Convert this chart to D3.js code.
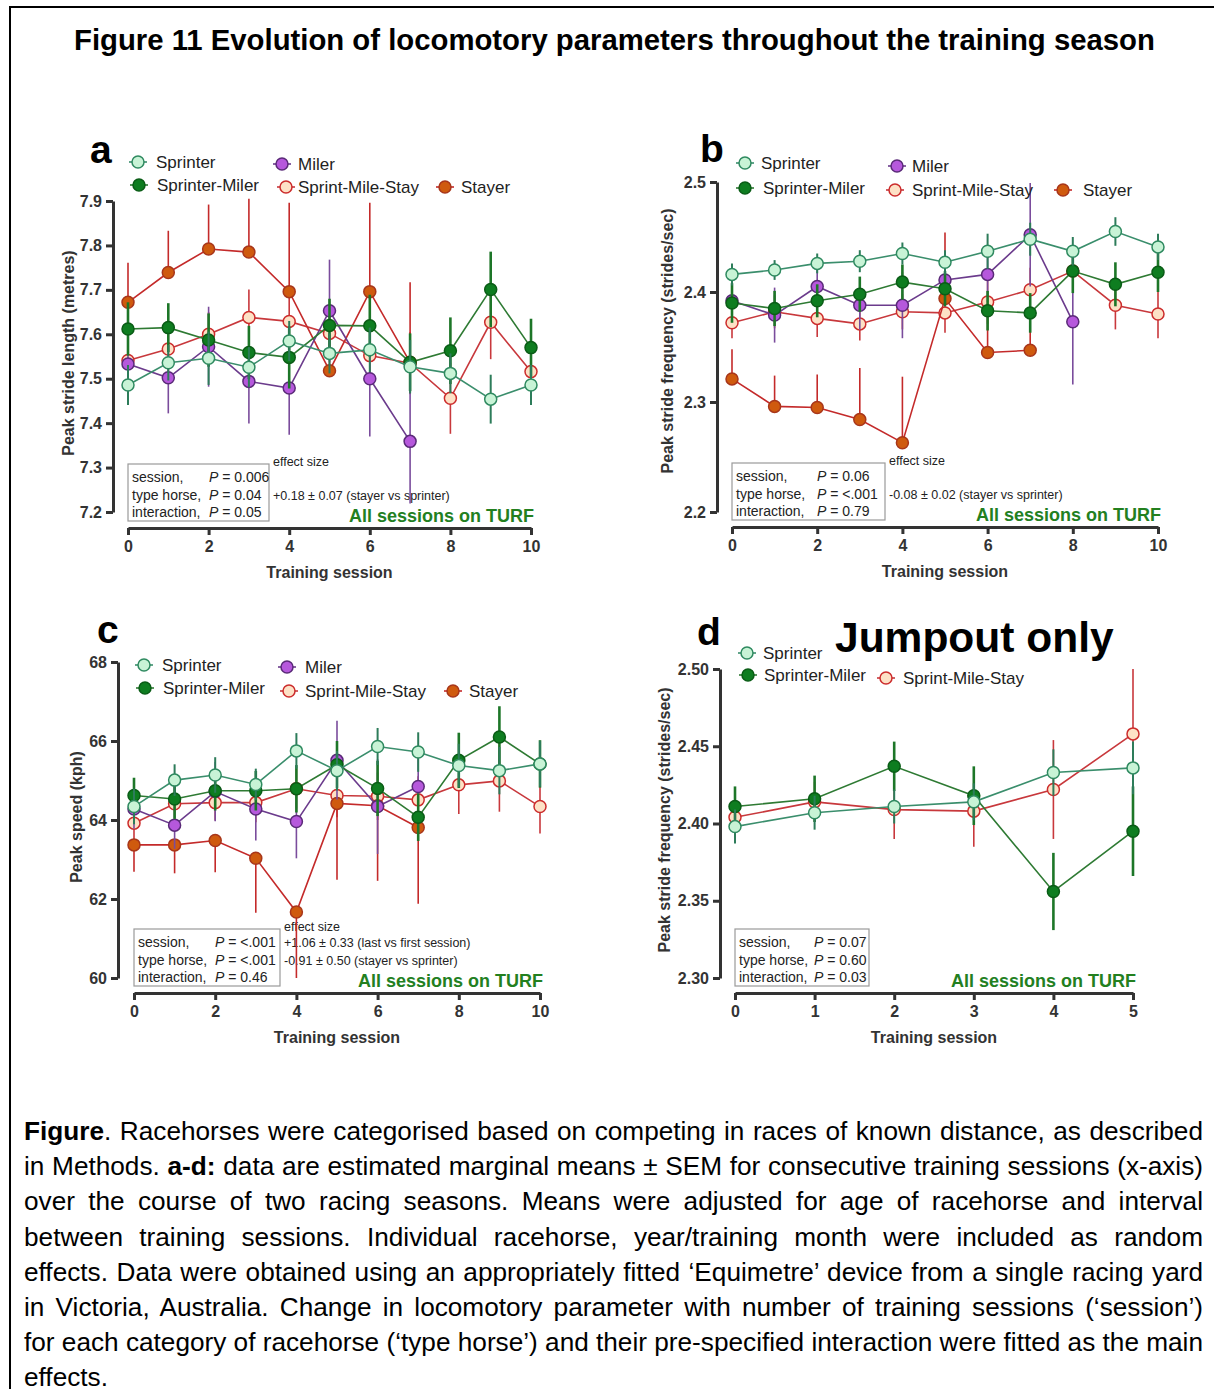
<!DOCTYPE html>
<html>
<head>
<meta charset="utf-8">
<script src="https://cdn.jsdelivr.net/npm/d3@7"></script>
<style>
  body { margin: 0; background: #fff; }
  #wrap { position: relative; width: 1214px; height: 1389px; overflow: hidden; }
  svg { position: absolute; left: 0; top: 0; }
</style>
</head>
<body>
<div id="wrap">
  <svg id="fig" width="1214" height="1389"></svg>
</div>
<script>
// Figure 11 — locomotory parameters over training sessions, four GraphPad-style panels.

// ---- ticks ----
const X_TICKS_10 = [0, 2, 4, 6, 8, 10];
const X_TICKS_5 = [0, 1, 2, 3, 4, 5];
const A_TICKS = [7.2, 7.3, 7.4, 7.5, 7.6, 7.7, 7.8, 7.9];
const B_TICKS = [2.2, 2.3, 2.4, 2.5];
const C_TICKS = [60, 62, 64, 66, 68];
const D_TICKS = [2.30, 2.35, 2.40, 2.45, 2.50];

// ---- a: peak stride length (m), mean and SEM per session ----
const a_sprinter     = [7.486, 7.536, 7.546, 7.526, 7.585, 7.557, 7.565, 7.527, 7.512, 7.454, 7.486];
const a_sprinter_sem = [0.045, 0.04, 0.06, 0.045, 0.045, 0.045, 0.05, 0.06, 0.045, 0.055, 0.045];
const a_sprmiler     = [7.612, 7.615, 7.587, 7.559, 7.548, 7.620, 7.619, 7.537, 7.563, 7.701, 7.570];
const a_sprmiler_sem = [0.06, 0.055, 0.06, 0.06, 0.07, 0.06, 0.07, 0.065, 0.075, 0.085, 0.065];
const a_miler        = [7.533, 7.502, 7.572, 7.494, 7.479, 7.653, 7.500, 7.359];
const a_miler_sem    = [0.06, 0.08, 0.09, 0.095, 0.105, 0.115, 0.13, 0.14];
const a_sms          = [7.541, 7.567, 7.600, 7.638, 7.629, 7.602, 7.552, 7.535, 7.456, 7.627, 7.516];
const a_sms_sem      = [0.05, 0.05, 0.05, 0.063, 0.06, 0.06, 0.06, 0.07, 0.08, 0.083, 0.06];
const a_stayer       = [7.672, 7.739, 7.792, 7.785, 7.696, 7.518, 7.696, 7.537];
const a_stayer_sem   = [0.089, 0.094, 0.10, 0.12, 0.20, 0.08, 0.20, 0.18];

// ---- b: peak stride frequency (strides/sec) ----
const b_sprinter     = [2.416, 2.420, 2.426, 2.428, 2.435, 2.427, 2.437, 2.448, 2.437, 2.455, 2.441];
const b_sprinter_sem = [0.010, 0.009, 0.009, 0.010, 0.010, 0.011, 0.016, 0.015, 0.013, 0.013, 0.012];
const b_sprmiler     = [2.390, 2.385, 2.392, 2.398, 2.409, 2.403, 2.383, 2.381, 2.419, 2.407, 2.418];
const b_sprmiler_sem = [0.018, 0.016, 0.015, 0.016, 0.016, 0.016, 0.018, 0.018, 0.020, 0.020, 0.018];
const b_miler        = [2.392, 2.379, 2.405, 2.388, 2.388, 2.411, 2.416, 2.452, 2.373];
const b_miler_sem    = [0.018, 0.025, 0.020, 0.022, 0.030, 0.022, 0.025, 0.047, 0.057];
const b_sms          = [2.372, 2.382, 2.376, 2.371, 2.382, 2.381, 2.391, 2.402, 2.419, 2.388, 2.380];
const b_sms_sem      = [0.014, 0.015, 0.017, 0.015, 0.016, 0.018, 0.020, 0.020, 0.020, 0.022, 0.022];
const b_stayer       = [2.321, 2.296, 2.295, 2.284, 2.263, 2.394, 2.345, 2.347];
const b_stayer_sem   = [0.027, 0.028, 0.030, 0.047, 0.060, 0.060, 0.045, 0.045];

// ---- c: peak speed (kph) ----
const c_sprinter     = [64.34, 65.01, 65.14, 64.90, 65.75, 65.25, 65.86, 65.72, 65.38, 65.25, 65.42];
const c_sprinter_sem = [0.45, 0.40, 0.45, 0.40, 0.45, 0.50, 0.47, 0.50, 0.55, 0.60, 0.58];
const c_sprmiler     = [64.62, 64.53, 64.74, 64.74, 64.79, 65.40, 64.80, 64.07, 65.51, 66.10, 65.42];
const c_sprmiler_sem = [0.45, 0.50, 0.50, 0.50, 0.60, 0.60, 0.70, 0.60, 0.70, 0.78, 0.60];
const c_miler        = [64.28, 63.87, 64.72, 64.28, 63.96, 65.51, 64.34, 64.85];
const c_miler_sem    = [0.50, 0.60, 0.75, 0.80, 0.93, 1.00, 1.20, 1.00];
const c_sms          = [63.92, 64.41, 64.44, 64.44, 64.79, 64.62, 64.60, 64.51, 64.89, 64.99, 64.34];
const c_sms_sem      = [0.40, 0.45, 0.45, 0.50, 0.50, 0.55, 0.60, 0.60, 0.74, 0.78, 0.68];
const c_stayer       = [63.37, 63.37, 63.48, 63.03, 61.67, 64.42, 64.36, 63.81];
const c_stayer_sem   = [0.68, 0.72, 0.80, 1.38, 1.67, 1.93, 1.90, 1.93];

// ---- d: jumpout only, peak stride frequency ----
const d_sprinter     = [2.398, 2.407, 2.411, 2.414, 2.433, 2.436];
const d_sprinter_sem = [0.011, 0.011, 0.011, 0.012, 0.015, 0.017];
const d_sprmiler     = [2.411, 2.416, 2.437, 2.418, 2.356, 2.395];
const d_sprmiler_sem = [0.013, 0.015, 0.016, 0.019, 0.025, 0.029];
const d_sms          = [2.404, 2.414, 2.409, 2.408, 2.422, 2.458];
const d_sms_sem      = [0.012, 0.013, 0.019, 0.023, 0.032, 0.042];

// ---- stats text ----
const A_STATS = [["session,", "0.006"], ["type horse,", "0.04"], ["interaction,", "0.05"]];
const B_STATS = [["session,", "0.06"], ["type horse,", "<.001"], ["interaction,", "0.79"]];
const C_STATS = [["session,", "<.001"], ["type horse,", "<.001"], ["interaction,", "0.46"]];
const D_STATS = [["session,", "0.07"], ["type horse,", "0.60"], ["interaction,", "0.03"]];
const A_EFFECTS = [[1, "+0.18 ± 0.07 (stayer vs sprinter)"]];
const B_EFFECTS = [[1, "-0.08 ± 0.02 (stayer vs sprinter)"]];
const C_EFFECTS = [[0, "+1.06 ± 0.33 (last vs first session)"], [1, "-0.91 ± 0.50 (stayer vs sprinter)"]];

const CAPTION = [
  [["b", "Figure"], ["", ". Racehorses were categorised based on competing in races of known distance, as described"]],
  [["", "in Methods. "], ["b", "a-d:"], ["", " data are estimated marginal means ± SEM for consecutive training sessions (x-axis)"]],
  [["", "over the course of two racing seasons. Means were adjusted for age of racehorse and interval"]],
  [["", "between training sessions. Individual racehorse, year/training month were included as random"]],
  [["", "effects. Data were obtained using an appropriately fitted ‘Equimetre’ device from a single racing yard"]],
  [["", "in Victoria, Australia. Change in locomotory parameter with number of training sessions (‘session’)"]],
  [["", "for each category of racehorse (‘type horse’) and their pre-specified interaction were fitted as the main"]],
  [["", "effects."]]
];

// ---- styles per horse type ----
const STYLE = {
  "Sprinter":         { fill: "#c8f3d6", stroke: "#2f8a60", line: "#3a8e6c", bar: "#2d7c5a", barW: 2 },
  "Sprinter-Miler":   { fill: "#0e7d20", stroke: "#0a5c16", line: "#2e7a33", bar: "#1d7628", barW: 2.6 },
  "Miler":            { fill: "#b658dc", stroke: "#5a2a78", line: "#6b3b8c", bar: "#7a4c9c", barW: 1.6 },
  "Sprint-Mile-Stay": { fill: "#fde1c6", stroke: "#cc2c2c", line: "#c8383c", bar: "#c8383c", barW: 1.6 },
  "Stayer":           { fill: "#cf5a0e", stroke: "#a8361a", line: "#c42a2a", bar: "#c42a2a", barW: 1.6 }
};
const AXIS = "#333";
const TURF_GREEN = "#23801f";
const FONT = '"Liberation Sans", Arial, sans-serif';

const svg = d3.select("#fig").attr("font-family", FONT);
svg.append("rect").attr("width", 1214).attr("height", 1389).attr("fill", "#fff");
svg.append("rect").attr("x", 10).attr("y", 7).attr("width", 1230).attr("height", 1420)
  .attr("fill", "none").attr("stroke", "#000").attr("stroke-width", 2);

svg.append("text").attr("x", 74).attr("y", 50)
  .attr("font-size", 29.3).attr("font-weight", "bold")
  .text("Figure 11 Evolution of locomotory parameters throughout the training season");

const panels = [
  {
    letter: "a", lx: 90, ly: 163,
    x0: 128, x1: 531, xAxisY: 528, yAxisX: 113, yTop: 201, yBot: 512,
    xDomain: [0, 10], xTicks: X_TICKS_10, yDomain: [7.2, 7.9], yTicks: A_TICKS, fmt: ".1f",
    yTitle: "Peak stride length (metres)", yTitleX: 74, yTitleY: 353,
    series: [
      { name: "Sprint-Mile-Stay", v: a_sms, e: a_sms_sem },
      { name: "Stayer", v: a_stayer, e: a_stayer_sem, dir: "up" },
      { name: "Miler", v: a_miler, e: a_miler_sem },
      { name: "Sprinter-Miler", v: a_sprmiler, e: a_sprmiler_sem },
      { name: "Sprinter", v: a_sprinter, e: a_sprinter_sem }
    ],
    stats: A_STATS, effects: A_EFFECTS, boxW: 141, pOff: 77,
    legend: [
      { name: "Sprinter", cx: 138, cy: 162, tx: 156 },
      { name: "Miler", cx: 282, cy: 164, tx: 298 },
      { name: "Sprinter-Miler", cx: 139, cy: 185, tx: 157 },
      { name: "Sprint-Mile-Stay", cx: 286, cy: 187, tx: 298 },
      { name: "Stayer", cx: 445, cy: 187, tx: 461 }
    ]
  },
  {
    letter: "b", lx: 700, ly: 162,
    x0: 732, x1: 1158, xAxisY: 527, yAxisX: 717, yTop: 182, yBot: 512,
    xDomain: [0, 10], xTicks: X_TICKS_10, yDomain: [2.2, 2.5], yTicks: B_TICKS, fmt: ".1f",
    yTitle: "Peak stride frequency (strides/sec)", yTitleX: 673, yTitleY: 341,
    series: [
      { name: "Sprint-Mile-Stay", v: b_sms, e: b_sms_sem },
      { name: "Stayer", v: b_stayer, e: b_stayer_sem, dir: "up" },
      { name: "Miler", v: b_miler, e: b_miler_sem },
      { name: "Sprinter-Miler", v: b_sprmiler, e: b_sprmiler_sem },
      { name: "Sprinter", v: b_sprinter, e: b_sprinter_sem }
    ],
    stats: B_STATS, effects: B_EFFECTS, boxW: 153, pOff: 81,
    legend: [
      { name: "Sprinter", cx: 745, cy: 163, tx: 761 },
      { name: "Miler", cx: 897, cy: 166, tx: 912 },
      { name: "Sprinter-Miler", cx: 745, cy: 188, tx: 763 },
      { name: "Sprint-Mile-Stay", cx: 895, cy: 190, tx: 912 },
      { name: "Stayer", cx: 1063, cy: 190, tx: 1083 }
    ]
  },
  {
    letter: "c", lx: 97, ly: 643,
    x0: 134, x1: 540, xAxisY: 993, yAxisX: 118, yTop: 662, yBot: 978,
    xDomain: [0, 10], xTicks: X_TICKS_10, yDomain: [60, 68], yTicks: C_TICKS, fmt: "d",
    yTitle: "Peak speed (kph)", yTitleX: 82, yTitleY: 817,
    series: [
      { name: "Sprint-Mile-Stay", v: c_sms, e: c_sms_sem },
      { name: "Stayer", v: c_stayer, e: c_stayer_sem, dir: "down" },
      { name: "Miler", v: c_miler, e: c_miler_sem },
      { name: "Sprinter-Miler", v: c_sprmiler, e: c_sprmiler_sem },
      { name: "Sprinter", v: c_sprinter, e: c_sprinter_sem }
    ],
    stats: C_STATS, effects: C_EFFECTS, boxW: 146, pOff: 77,
    legend: [
      { name: "Sprinter", cx: 144, cy: 665, tx: 162 },
      { name: "Miler", cx: 287, cy: 667, tx: 305 },
      { name: "Sprinter-Miler", cx: 145, cy: 688, tx: 163 },
      { name: "Sprint-Mile-Stay", cx: 289, cy: 691, tx: 305 },
      { name: "Stayer", cx: 453, cy: 691, tx: 469 }
    ]
  },
  {
    letter: "d", lx: 697, ly: 645,
    x0: 735, x1: 1133, xAxisY: 993, yAxisX: 720, yTop: 669, yBot: 978,
    xDomain: [0, 5], xTicks: X_TICKS_5, yDomain: [2.30, 2.50], yTicks: D_TICKS, fmt: ".2f",
    yTitle: "Peak stride frequency (strides/sec)", yTitleX: 670, yTitleY: 820,
    series: [
      { name: "Sprint-Mile-Stay", v: d_sms, e: d_sms_sem },
      { name: "Sprinter-Miler", v: d_sprmiler, e: d_sprmiler_sem },
      { name: "Sprinter", v: d_sprinter, e: d_sprinter_sem }
    ],
    stats: D_STATS, effects: [], boxW: 134, pOff: 75,
    legend: [
      { name: "Sprinter", cx: 747, cy: 653, tx: 763 },
      { name: "Sprinter-Miler", cx: 748, cy: 675, tx: 764 },
      { name: "Sprint-Mile-Stay", cx: 886, cy: 678, tx: 903 }
    ],
    headline: { text: "Jumpout only", x: 835, y: 652 }
  }
];

panels.forEach(drawPanel);

function drawPanel(p) {
  const x = d3.scaleLinear().domain(p.xDomain).range([p.x0, p.x1]);
  const y = d3.scaleLinear().domain(p.yDomain).range([p.yBot, p.yTop]);
  const g = svg.append("g").attr("font-family", FONT);

  // panel letter
  g.append("text").attr("x", p.lx).attr("y", p.ly)
    .attr("font-size", 39).attr("font-weight", "bold").text(p.letter);
  if (p.headline) {
    g.append("text").attr("x", p.headline.x).attr("y", p.headline.y)
      .attr("font-size", 42.5).attr("font-weight", "bold").text(p.headline.text);
  }

  // axes
  const yAx = g.append("g").attr("transform", `translate(${p.yAxisX},0)`)
    .call(d3.axisLeft(y).tickValues(p.yTicks).tickFormat(d3.format(p.fmt))
      .tickSize(7).tickSizeOuter(0).tickPadding(4));
  const xAx = g.append("g").attr("transform", `translate(0,${p.xAxisY})`)
    .call(d3.axisBottom(x).tickValues(p.xTicks).tickFormat(d3.format("d"))
      .tickSize(7).tickSizeOuter(0).tickPadding(6));
  [yAx, xAx].forEach(ax => {
    ax.select(".domain").attr("stroke", AXIS).attr("stroke-width", 3);
    ax.selectAll(".tick line").attr("stroke", AXIS).attr("stroke-width", 3);
    ax.selectAll(".tick text").attr("fill", AXIS).attr("font-size", 16)
      .attr("font-weight", "bold").attr("font-family", FONT);
  });

  g.append("text")
    .attr("transform", `translate(${p.yTitleX},${p.yTitleY}) rotate(-90)`)
    .attr("text-anchor", "middle").attr("font-size", 16).attr("font-weight", "bold")
    .attr("fill", AXIS).text(p.yTitle);
  g.append("text").attr("x", (p.x0 + p.x1) / 2).attr("y", p.xAxisY + 50)
    .attr("text-anchor", "middle").attr("font-size", 16).attr("font-weight", "bold")
    .attr("fill", AXIS).text("Training session");

  // stats box
  const bx = p.x0, by = p.xAxisY - 64;
  g.append("rect").attr("x", bx).attr("y", by).attr("width", p.boxW).attr("height", 57)
    .attr("fill", "#fff").attr("stroke", "#9a9a9a").attr("stroke-width", 1.2);
  p.stats.forEach((r, i) => {
    const ty = by + 18 + i * 17.5;
    g.append("text").attr("x", bx + 4).attr("y", ty).attr("font-size", 14).attr("fill", "#222").text(r[0]);
    const t = g.append("text").attr("x", bx + 4 + p.pOff).attr("y", ty).attr("font-size", 14).attr("fill", "#222");
    t.append("tspan").attr("font-style", "italic").text("P");
    t.append("tspan").text(" = " + r[1]);
  });
  if (p.effects.length) {
    const ex = bx + p.boxW + 4;
    g.append("text").attr("x", ex).attr("y", by + 2).attr("font-size", 12.5).attr("fill", "#222").text("effect size");
    p.effects.forEach(([row, txt]) => {
      g.append("text").attr("x", ex).attr("y", by + 18 + row * 17.5).attr("font-size", 12.5)
        .attr("fill", "#222").text(txt);
    });
  }

  g.append("text").attr("x", p.x1 + 3).attr("y", p.xAxisY - 6).attr("text-anchor", "end")
    .attr("font-size", 18).attr("font-weight", "bold").attr("fill", TURF_GREEN)
    .text("All sessions on TURF");

  // series: error bars, line, markers
  p.series.forEach(s => {
    const st = STYLE[s.name];
    const pts = s.v.map((v, i) => ({ i: i, v: v, e: s.e[i] }));
    const lo = d => s.dir === "up" ? d.v : d.v - d.e;
    const hi = d => s.dir === "down" ? d.v : d.v + d.e;
    g.append("g").selectAll("line").data(pts).join("line")
      .attr("x1", d => x(d.i)).attr("x2", d => x(d.i))
      .attr("y1", d => y(lo(d))).attr("y2", d => y(hi(d)))
      .attr("stroke", st.bar).attr("stroke-width", st.barW);
    g.append("path").datum(pts)
      .attr("fill", "none").attr("stroke", st.line).attr("stroke-width", 1.6)
      .attr("d", d3.line().x(d => x(d.i)).y(d => y(d.v)));
    g.append("g").selectAll("circle").data(pts).join("circle")
      .attr("cx", d => x(d.i)).attr("cy", d => y(d.v)).attr("r", 6)
      .attr("fill", st.fill).attr("stroke", st.stroke).attr("stroke-width", 1.5);
  });

  // legend
  p.legend.forEach(L => {
    const st = STYLE[L.name];
    g.append("line").attr("x1", L.cx - 9).attr("x2", L.cx + 9).attr("y1", L.cy).attr("y2", L.cy)
      .attr("stroke", st.line).attr("stroke-width", 1.6);
    g.append("circle").attr("cx", L.cx).attr("cy", L.cy).attr("r", 6)
      .attr("fill", st.fill).attr("stroke", st.stroke).attr("stroke-width", 1.5);
    g.append("text").attr("x", L.tx).attr("y", L.cy + 6).attr("font-size", 17)
      .attr("fill", "#222").text(L.name);
  });
}

// caption lines, justified by spreading word spacing to the full width
const CAP_LEFT = 24, CAP_WIDTH = 1179;
CAPTION.forEach((parts, i) => {
  const t = svg.append("text").attr("x", CAP_LEFT).attr("y", 1140 + i * 35.2)
    .attr("font-size", 26.2).attr("fill", "#000").style("white-space", "pre");
  parts.forEach(([w, txt]) => {
    t.append("tspan").attr("font-weight", w === "b" ? "bold" : null).text(txt);
  });
  if (i < CAPTION.length - 1) {
    const natural = t.node().getComputedTextLength();
    const gaps = parts.map(q => q[1]).join("").split(" ").length - 1;
    t.attr("word-spacing", (CAP_WIDTH - natural) / gaps);
  }
});
</script>
</body>
</html>
